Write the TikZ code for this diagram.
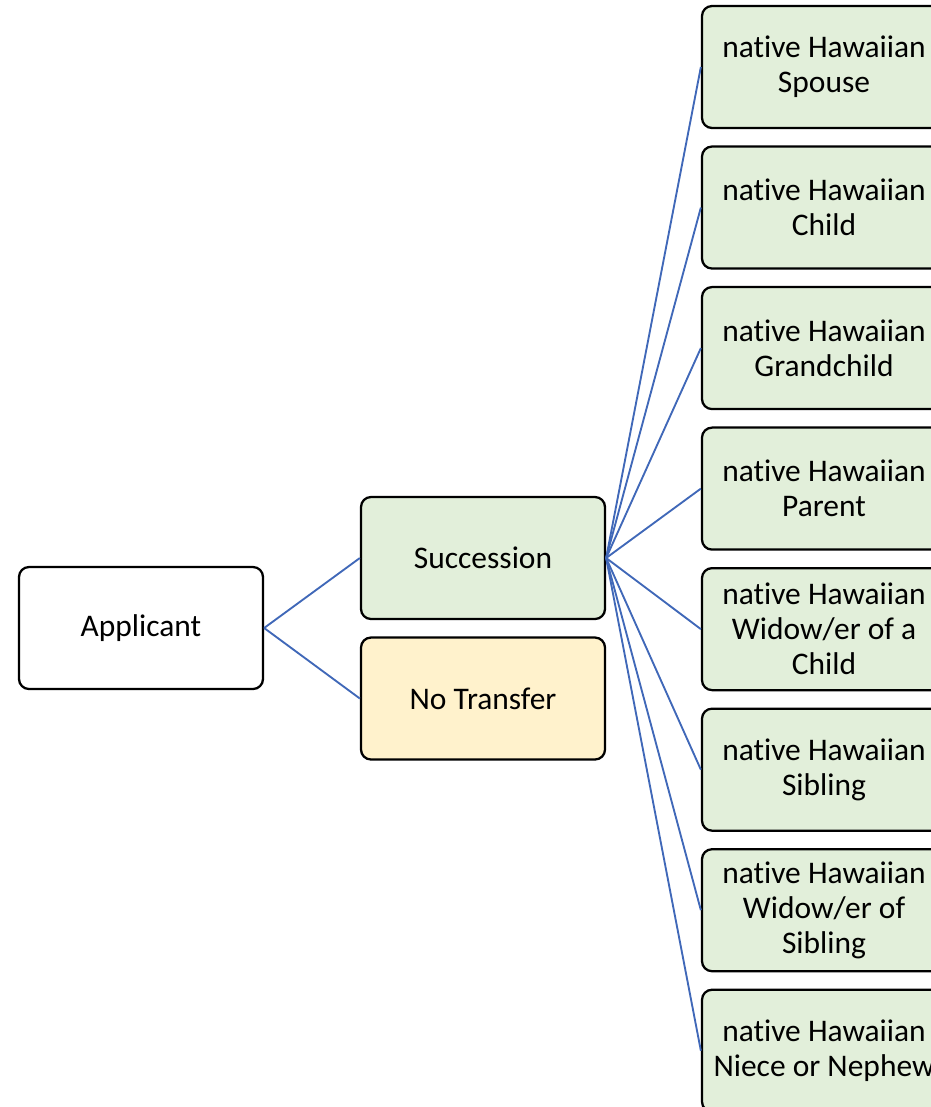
\documentclass[tikz,border=0pt]{standalone}
\usepackage{fontspec}
\setmainfont{Carlito}[RawFeature={-liga;-clig;-calt;-dlig}]
\usepackage{xcolor}
\usepackage{tikz}
\usetikzlibrary{positioning}
\definecolor{leafgreen}{HTML}{E2EFDA}
\definecolor{noyellow}{HTML}{FFF2CC}
\definecolor{linkblue}{HTML}{4068B8}
\tikzstyle{box} = [rectangle, rounded corners=7.5pt, minimum width=183pt, minimum
height=91.5pt, align=center, draw=black, line width=1.7pt,
font=\fontsize{23.6}{26.3}\selectfont]
\tikzstyle{root} = [box, fill=white]
\tikzstyle{branch} = [box, fill=leafgreen]
\tikzstyle{stop} = [box, fill=noyellow]
\tikzstyle{heir} = [box, fill=leafgreen]
\tikzstyle{link} = [line width=1.4pt, draw=linkblue]

\begin{document}
\begin{tikzpicture}[x=0.75pt, y=-0.75pt, node distance=12.2pt]
    \useasboundingbox (0,0) rectangle (931,1107);
    \node (app) [root] at (141,628) {Applicant};
    \node (suc) [branch] at (483,558) {Succession};
    \node (nt) [stop, below=of suc] {No Transfer};
    \node (h1) [heir] at (824,67) {native Hawaiian\\Spouse};
    \node (h2) [heir, below=of h1] {native Hawaiian\\Child};
    \node (h3) [heir, below=of h2] {native Hawaiian\\Grandchild};
    \node (h4) [heir, below=of h3] {native Hawaiian\\Parent};
    \node (h5) [heir, below=of h4] {native Hawaiian\\Widow/er of a\\Child};
    \node (h6) [heir, below=of h5] {native Hawaiian\\Sibling};
    \node (h7) [heir, below=of h6] {native Hawaiian\\Widow/er of\\Sibling};
    \node (h8) [heir, below=of h7] {native Hawaiian\\Niece or Nephew};

    \draw[link] (app.east) -- (suc.west);
    \draw[link] (app.east) -- (nt.west);
    \draw[link] (suc.east) -- (h1.west);
    \draw[link] (suc.east) -- (h2.west);
    \draw[link] (suc.east) -- (h3.west);
    \draw[link] (suc.east) -- (h4.west);
    \draw[link] (suc.east) -- (h5.west);
    \draw[link] (suc.east) -- (h6.west);
    \draw[link] (suc.east) -- (h7.west);
    \draw[link] (suc.east) -- (h8.west);
  \end{tikzpicture}
\end{document}
